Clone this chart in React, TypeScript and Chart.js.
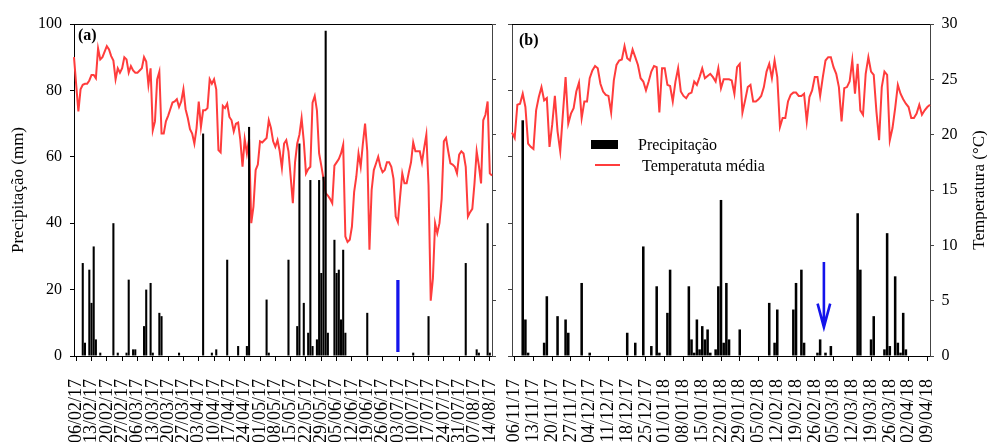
import React, { useEffect, useRef } from "react";
import { Chart, registerables } from "chart.js";

Chart.register(...registerables);

const SERIF = "'Liberation Serif', 'Times New Roman', Times, serif";
const RED = "rgb(255, 60, 60)";
const BLUE = "rgb(20, 20, 235)";
const FIRST_DAY = -1; // index 0 = the day before the first weekly tick

// ---------- Panel (a) ----------
const weekLabelsA = [
  "06/02/17", "13/02/17", "20/02/17", "27/02/17", "06/03/17", "13/03/17", "20/03/17",
  "27/03/17", "03/04/17", "10/04/17", "17/04/17", "24/04/17", "01/05/17", "08/05/17",
  "15/05/17", "22/05/17", "29/05/17", "05/06/17", "12/06/17", "19/06/17", "26/06/17",
  "03/07/17", "10/07/17", "17/07/17", "24/07/17", "31/07/17", "07/08/17", "14/08/17",
];
const tempA = [
  27.0, 24.5, 22.1, 24.1, 24.5, 24.6, 24.6, 24.9, 25.4, 25.4,
  25.1, 27.8, 26.8, 27.0, 27.5, 28.0, 27.7, 27.1, 26.7, 25.0,
  26.0, 25.6, 26.0, 27.0, 26.8, 25.6, 26.2, 25.8, 25.6, 25.6,
  25.8, 26.0, 27.0, 26.6, 24.5, 26.0, 20.4, 21.2, 25.0, 25.7,
  20.1, 20.1, 21.2, 21.7, 22.3, 22.9, 23.0, 23.2, 22.5, 23.0,
  24.1, 22.3, 21.5, 20.5, 20.1, 19.2, 20.6, 23.0, 20.7, 22.2,
  22.2, 22.4, 25.0, 24.6, 25.0, 24.1, 18.6, 18.4, 22.6, 22.4,
  22.8, 21.6, 21.3, 20.3, 21.0, 21.1, 19.5, 17.1, 19.6, 18.3,
  19.6, 12.0, 13.5, 16.8, 17.3, 19.4, 19.3, 19.5, 19.7, 21.3,
  20.6, 19.4, 18.9, 19.5, 18.5, 17.0, 19.2, 19.5, 18.5, 16.2,
  13.8, 17.5, 19.2, 20.0, 21.5, 19.4, 16.5, 16.9, 17.1, 22.9,
  23.5, 22.2, 18.3, 17.2, 16.0, 14.7, 14.5, 14.2, 13.8, 17.2,
  17.5, 17.8, 18.3, 19.1, 10.8, 10.3, 10.5, 11.7, 14.8, 16.2,
  18.3, 17.1, 19.2, 21.0, 18.5, 9.6, 15.0, 16.8, 17.4, 18.0,
  17.1, 16.6, 16.8, 17.5, 17.5, 17.1, 16.0, 12.6, 12.1, 14.4,
  16.5, 15.6, 15.6, 16.6, 17.5, 19.3, 18.5, 18.5, 18.5, 17.5,
  18.8, 20.0, 15.4, 5.0, 7.0, 12.0, 11.1, 12.0, 14.2, 19.4,
  19.7, 18.5, 17.4, 17.3, 17.1, 16.5, 18.2, 18.5, 18.3, 17.1,
  12.6, 13.0, 13.3, 15.6, 18.5, 17.2, 15.6, 21.3, 21.8, 23.0,
  16.5, 16.3,
];
const rainDaysA = [
  3, 4, 6, 7, 8, 9, 11, 17, 19, 23, 24, 26, 27, 31, 32, 34, 35, 38, 39, 47,
  58, 62, 64, 69, 74, 78, 79, 87, 88, 97, 101, 102, 104, 106, 107, 108, 110, 111, 112, 113,
  114, 115, 118, 119, 120, 121, 122, 123, 133, 154, 161, 178, 183, 184, 188, 189,
];
const rainMmA = [
  28, 4, 26, 16, 33, 5, 1, 40, 1, 1, 23, 2, 2, 9, 20, 22, 1, 13, 12, 1,
  67, 1, 2, 29, 3, 3, 69, 17, 1, 29, 9, 64, 16, 7, 53, 3, 5, 53, 25, 54,
  98, 7, 35, 25, 26, 11, 32, 7, 13, 1, 12, 28, 2, 1, 40, 1,
];
const markDayA = 147;
const markLowA = 1.3;
const markHighA = 22.8;

// ---------- Panel (b) ----------
const weekLabelsB = [
  "06/11/17", "13/11/17", "20/11/17", "27/11/17", "04/12/17", "11/12/17", "18/12/17",
  "25/12/17", "01/01/18", "08/01/18", "15/01/18", "22/01/18", "29/01/18", "05/02/18",
  "12/02/18", "19/02/18", "26/02/18", "05/03/18", "12/03/18", "19/03/18", "26/03/18",
  "02/04/18", "09/04/18",
];
const tempB = [
  20.2, 19.7, 22.7, 22.8, 23.7, 22.5, 19.2, 18.9, 18.7, 22.2,
  23.4, 24.3, 23.1, 23.3, 18.9, 20.9, 23.5, 20.3, 18.5, 21.9,
  25.2, 21.0, 21.9, 22.4, 23.9, 24.7, 21.5, 23.0, 23.0, 25.1,
  25.8, 26.2, 26.0, 24.6, 23.9, 23.6, 23.5, 22.0, 24.9, 26.3,
  26.7, 26.8, 28.0, 26.9, 26.7, 27.7, 27.0, 26.3, 25.1, 24.8,
  24.0, 24.8, 25.7, 26.2, 26.1, 22.0, 26.0, 26.0, 24.5, 24.4,
  23.0, 24.8, 26.0, 23.9, 23.5, 23.3, 23.7, 23.8, 24.8, 24.5,
  25.2, 26.0, 25.1, 25.3, 25.5, 25.2, 24.8, 26.0, 24.2, 25.0,
  25.0, 25.0, 24.9, 23.7, 26.1, 26.4, 22.0, 23.1, 24.3, 24.5,
  23.0, 23.0, 23.2, 23.5, 24.3, 25.7, 26.4, 25.1, 26.7, 25.2,
  20.7, 21.5, 21.5, 23.0, 23.6, 23.8, 23.8, 23.5, 23.5, 23.7,
  21.2, 23.4, 24.0, 25.2, 25.2, 23.5, 25.2, 26.7, 27.0, 27.0,
  26.1, 25.5, 24.3, 21.2, 24.2, 24.3, 24.8, 26.7, 23.7, 26.4,
  22.2, 21.8, 25.5, 27.0, 25.7, 25.4, 22.1, 19.5, 24.3, 25.7,
  25.4, 19.5, 20.6, 22.4, 24.5, 23.7, 23.2, 22.8, 22.5, 21.5,
  21.5, 21.9, 22.7, 21.8, 22.2, 22.5, 22.7,
];
const rainDaysB = [
  3, 4, 5, 11, 12, 16, 19, 20, 25, 28, 42, 45, 48, 51, 53, 54, 57, 58, 65, 66,
  67, 68, 69, 70, 71, 72, 73, 75, 76, 77, 78, 79, 80, 84, 95, 97, 98, 104, 105, 107,
  108, 113, 114, 116, 118, 128, 129, 133, 134, 138, 139, 140, 142, 143, 144, 145, 146,
];
const rainMmB = [
  71, 11, 1, 4, 18, 12, 11, 7, 22, 1, 7, 4, 33, 3, 21, 1, 13, 26, 21, 5,
  1, 11, 2, 9, 5, 8, 1, 2, 21, 47, 4, 22, 5, 8, 16, 4, 14, 14, 22, 26,
  4, 1, 5, 1, 3, 43, 26, 5, 12, 2, 37, 3, 24, 4, 1, 13, 2,
];
const arrowDayB = 115.4;
const arrowTopB = 28.3;
const arrowWingB = 15.8;
const arrowTipB = 8.7;

// ---------- helpers ----------
function rainSeries(temp: number[], days: number[], mm: number[]) {
  const out: (number | null)[] = temp.map(() => null);
  days.forEach((d, k) => {
    out[d - FIRST_DAY] = mm[k];
  });
  return out;
}

function markSeries(temp: number[], day: number, lo: number, hi: number) {
  const out: any[] = temp.map(() => null);
  out[day - FIRST_DAY] = [lo, hi];
  return out;
}

function topBorder(chart: any) {
  const { ctx, chartArea } = chart;
  ctx.save();
  ctx.strokeStyle = "#000";
  ctx.lineWidth = 1;
  ctx.beginPath();
  ctx.moveTo(chartArea.left, Math.round(chartArea.top) + 0.5);
  ctx.lineTo(chartArea.right, Math.round(chartArea.top) + 0.5);
  ctx.stroke();
  ctx.restore();
}

function vText(ctx: any, text: string, x: number, y: number, size: number) {
  ctx.save();
  ctx.translate(x, y);
  ctx.rotate(-Math.PI / 2);
  ctx.font = `${size}px ${SERIF}`;
  ctx.fillStyle = "#000";
  ctx.textAlign = "center";
  ctx.textBaseline = "middle";
  ctx.fillText(text, 0, 0);
  ctx.restore();
}

const decorA = {
  id: "decorA",
  afterDraw(chart: any) {
    const { ctx, chartArea } = chart;
    topBorder(chart);
    ctx.save();
    ctx.fillStyle = "#000";
    ctx.font = `bold 16px ${SERIF}`;
    ctx.textAlign = "left";
    ctx.textBaseline = "alphabetic";
    ctx.fillText("(a)", chartArea.left + 4, 39.5);
    ctx.restore();
    vText(ctx, "Precipitação (mm)", 18.5, (chartArea.top + chartArea.bottom) / 2, 17);
  },
};

const decorB = {
  id: "decorB",
  afterDraw(chart: any) {
    const { ctx, chartArea, scales } = chart;
    topBorder(chart);
    ctx.save();
    ctx.fillStyle = "#000";
    ctx.font = `bold 16px ${SERIF}`;
    ctx.textAlign = "left";
    ctx.textBaseline = "alphabetic";
    ctx.fillText("(b)", chartArea.left + 7, 45);
    // legend
    const lx = chartArea.left;
    ctx.fillRect(lx + 79, 140, 27, 9);
    ctx.font = `16px ${SERIF}`;
    ctx.fillText("Precipitação", lx + 126, 150.3);
    ctx.strokeStyle = RED;
    ctx.lineWidth = 2;
    ctx.beginPath();
    ctx.moveTo(lx + 83, 165);
    ctx.lineTo(lx + 108, 165);
    ctx.stroke();
    ctx.fillText(" Temperatuta média", lx + 126, 170.7);
    // arrow
    const x = scales.x.getPixelForValue(arrowDayB - FIRST_DAY);
    const yTop = scales.yP.getPixelForValue(arrowTopB);
    const yTip = scales.yP.getPixelForValue(arrowTipB);
    const yWing = scales.yP.getPixelForValue(arrowWingB);
    ctx.strokeStyle = BLUE;
    ctx.lineWidth = 2.6;
    ctx.beginPath();
    ctx.moveTo(x, yTop);
    ctx.lineTo(x, yTip);
    ctx.moveTo(x - 6.3, yWing);
    ctx.lineTo(x, yTip);
    ctx.lineTo(x + 6.3, yWing);
    ctx.stroke();
    ctx.restore();
    vText(ctx, "Temperatura (°C)", 480, (chartArea.top + chartArea.bottom) / 2, 17);
  },
};

type Cfg = {
  weekLabels: string[];
  temp: number[];
  rain: (number | null)[];
  mark: any[] | null;
  leftW: number;
  rightW: number;
  showLeft: boolean;
  showRight: boolean;
  leftBorder: string;
  rightBorder: string;
  barPct: number;
  decor: any;
};

function makeChart(canvas: HTMLCanvasElement, cfg: Cfg) {
  const labels = cfg.temp.map((_, i) => String(i + FIRST_DAY));
  const isWeek = (i: number) => {
    const d = i + FIRST_DAY;
    return d >= 0 && d % 7 === 0 && d / 7 < cfg.weekLabels.length;
  };
  const datasets: any[] = [];
  if (cfg.mark) {
    datasets.push({
      type: "bar",
      label: "marca",
      data: cfg.mark,
      backgroundColor: BLUE,
      yAxisID: "yP",
      grouped: false,
      barThickness: 2.6,
      order: 0,
    });
  }
  datasets.push({
    type: "bar",
    label: "Precipitação",
    data: cfg.rain,
    backgroundColor: "#000",
    yAxisID: "yP",
    grouped: false,
    barPercentage: cfg.barPct,
    categoryPercentage: 1,
    order: 1,
  });
  datasets.push({
    type: "line",
    label: "Temperatuta média",
    data: cfg.temp,
    borderColor: RED,
    borderWidth: 2,
    pointRadius: 0,
    tension: 0,
    yAxisID: "yT",
    order: 2,
  });

  return new Chart(canvas, {
    type: "bar",
    data: { labels, datasets },
    options: {
      responsive: false,
      animation: false,
      devicePixelRatio: 1,
      layout: { padding: { top: 24, left: 0, right: 0, bottom: 0 } },
      plugins: { legend: { display: false }, tooltip: { enabled: false } },
      scales: {
        x: {
          type: "category",
          offset: false,
          grid: {
            offset: false,
            drawOnChartArea: false,
            drawTicks: true,
            tickLength: 5,
            tickColor: (ctx: any) => (isWeek(ctx.index) ? "#000" : "rgba(0,0,0,0)"),
          },
          border: { color: "#000", width: 1 },
          ticks: {
            autoSkip: false,
            maxRotation: 90,
            minRotation: 90,
            padding: 18,
            color: "#000",
            font: { size: 18, family: SERIF },
            callback: (_v: any, i: number) => {
              if (!isWeek(i)) return "";
              return cfg.weekLabels[(i + FIRST_DAY) / 7];
            },
          },
          afterFit: (s: any) => {
            s.height = 86;
            s.paddingLeft = 0;
            s.paddingRight = 0;
          },
        },
        yP: {
          type: "linear",
          position: "left",
          min: 0,
          max: 100,
          grid: { drawOnChartArea: false, tickLength: 4, tickColor: cfg.leftBorder },
          border: { color: cfg.leftBorder, width: 1 },
          ticks: {
            stepSize: 20,
            display: cfg.showLeft,
            padding: 8,
            color: "#000",
            font: { size: 16, family: SERIF },
          },
          afterFit: (s: any) => {
            s.width = cfg.leftW;
            s.paddingTop = 0;
            s.paddingBottom = 0;
          },
        },
        yT: {
          type: "linear",
          position: "right",
          min: 0,
          max: 30,
          grid: { drawOnChartArea: false, tickLength: 4, tickColor: cfg.rightBorder },
          border: { color: cfg.rightBorder, width: 1 },
          ticks: {
            stepSize: 5,
            display: cfg.showRight,
            padding: 7.5,
            color: "#000",
            font: { size: 16, family: SERIF },
          },
          afterFit: (s: any) => {
            s.width = cfg.rightW;
            s.paddingTop = 0;
            s.paddingBottom = 0;
          },
        },
      },
    } as any,
    plugins: [cfg.decor],
  });
}

export default function App() {
  const refA = useRef<HTMLCanvasElement>(null);
  const refB = useRef<HTMLCanvasElement>(null);

  useEffect(() => {
    const a = makeChart(refA.current!, {
      weekLabels: weekLabelsA,
      temp: tempA,
      rain: rainSeries(tempA, rainDaysA, rainMmA),
      mark: markSeries(tempA, markDayA, markLowA, markHighA),
      leftW: 74,
      rightW: 8,
      showLeft: true,
      showRight: false,
      leftBorder: "#000",
      rightBorder: "#444",
      barPct: 0.95,
      decor: decorA,
    });
    const b = makeChart(refB.current!, {
      weekLabels: weekLabelsB,
      temp: tempB,
      rain: rainSeries(tempB, rainDaysB, rainMmB),
      mark: null,
      leftW: 12,
      rightW: 57,
      showLeft: false,
      showRight: true,
      leftBorder: "#444",
      rightBorder: "#444",
      barPct: 0.95,
      decor: decorB,
    });
    return () => {
      a.destroy();
      b.destroy();
    };
  }, []);

  return (
    <div
      style={{
        position: "absolute",
        left: 0,
        top: 0,
        width: 987,
        height: 442,
        background: "#fff",
        overflow: "hidden",
      }}
    >
      <canvas ref={refA} width={500} height={442} style={{ position: "absolute", left: 0, top: 0 }} />
      <canvas ref={refB} width={487} height={442} style={{ position: "absolute", left: 500, top: 0 }} />
    </div>
  );
}
